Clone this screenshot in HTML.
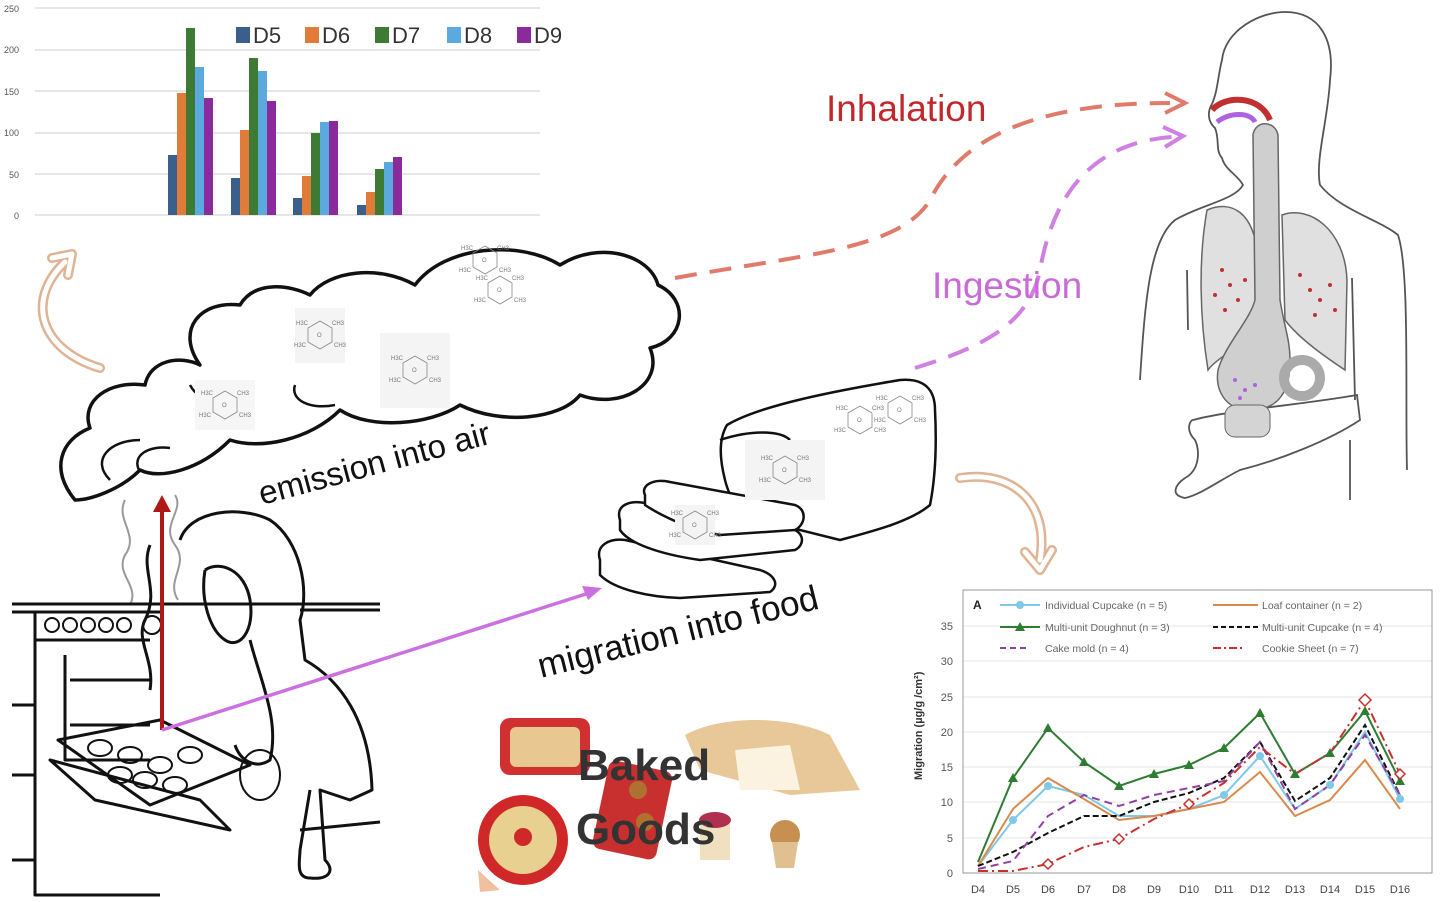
<!DOCTYPE html>
<html><head><meta charset="utf-8"><style>
html,body{margin:0;padding:0;background:#fff;width:1440px;height:902px;overflow:hidden}
svg{display:block}
text{font-family:"Liberation Sans",sans-serif}
</style></head><body>
<svg width="1440" height="902" viewBox="0 0 1440 902" xmlns="http://www.w3.org/2000/svg">
<defs>
<g id="mol" fill="none" stroke="#888" stroke-width="0.8">
<polygon points="0,-14 12,-7 12,7 0,14 -12,7 -12,-7"/>
<text x="-24" y="-10" font-size="6" fill="#777" stroke="none">H3C</text>
<text x="12" y="-10" font-size="6" fill="#777" stroke="none">CH3</text>
<text x="-26" y="12" font-size="6" fill="#777" stroke="none">H3C</text>
<text x="14" y="12" font-size="6" fill="#777" stroke="none">CH3</text>
<text x="-3" y="2" font-size="6" fill="#777" stroke="none">O</text>
</g>
</defs>

<!-- Bar chart -->
<g font-size="9" fill="#555">
<g stroke="#d8d8d8" stroke-width="1.2">
<line x1="35" y1="8" x2="540" y2="8"/><line x1="35" y1="50" x2="540" y2="50"/>
<line x1="35" y1="91" x2="540" y2="91"/><line x1="35" y1="133" x2="540" y2="133"/>
<line x1="35" y1="174" x2="540" y2="174"/><line x1="35" y1="215" x2="540" y2="215"/>
</g>
<text x="4" y="12">250</text><text x="4" y="53">200</text><text x="4" y="95">150</text>
<text x="4" y="136">100</text><text x="9" y="178">50</text><text x="14" y="219">0</text>
</g>
<g>
<rect x="168" y="155" width="9" height="60" fill="#3a5f8a"/>
<rect x="177" y="93" width="9" height="122" fill="#e07b39"/>
<rect x="186" y="28" width="9" height="187" fill="#3d7a33"/>
<rect x="195" y="67" width="9" height="148" fill="#5aaae0"/>
<rect x="204" y="98" width="9" height="117" fill="#8b2b9b"/>
<rect x="231" y="178" width="9" height="37" fill="#3a5f8a"/>
<rect x="240" y="130" width="9" height="85" fill="#e07b39"/>
<rect x="249" y="58" width="9" height="157" fill="#3d7a33"/>
<rect x="258" y="71" width="9" height="144" fill="#5aaae0"/>
<rect x="267" y="101" width="9" height="114" fill="#8b2b9b"/>
<rect x="293" y="198" width="9" height="17" fill="#3a5f8a"/>
<rect x="302" y="176" width="9" height="39" fill="#e07b39"/>
<rect x="311" y="133" width="9" height="82" fill="#3d7a33"/>
<rect x="320" y="122" width="9" height="93" fill="#5aaae0"/>
<rect x="329" y="121" width="9" height="94" fill="#8b2b9b"/>
<rect x="357" y="205" width="9" height="10" fill="#3a5f8a"/>
<rect x="366" y="192" width="9" height="23" fill="#e07b39"/>
<rect x="375" y="169" width="9" height="46" fill="#3d7a33"/>
<rect x="384" y="162" width="9" height="53" fill="#5aaae0"/>
<rect x="393" y="157" width="9" height="58" fill="#8b2b9b"/>
</g>
<g font-size="22" fill="#333">
<rect x="236" y="27" width="14" height="16" fill="#3a5f8a"/><text x="253" y="43">D5</text>
<rect x="305" y="27" width="14" height="16" fill="#e07b39"/><text x="322" y="43">D6</text>
<rect x="375" y="27" width="14" height="16" fill="#3d7a33"/><text x="392" y="43">D7</text>
<rect x="447" y="27" width="14" height="16" fill="#5aaae0"/><text x="464" y="43">D8</text>
<rect x="517" y="27" width="14" height="16" fill="#8b2b9b"/><text x="534" y="43">D9</text>
</g>

<!-- orange curved arrows -->
<g fill="none" stroke-linecap="round" stroke-linejoin="round">
<path d="M100,368 C40,350 25,300 65,262 M52,258 L72,254 L68,275" stroke="#e0b394" stroke-width="10"/>
<path d="M100,368 C40,350 25,300 65,262 M52,258 L72,254 L68,275" stroke="#fff" stroke-width="5"/>
<path d="M960,478 C1010,470 1050,500 1040,560 M1025,552 L1040,570 L1052,550" stroke="#e0b394" stroke-width="10"/>
<path d="M960,478 C1010,470 1050,500 1040,560 M1025,552 L1040,570 L1052,550" stroke="#fff" stroke-width="5"/>
</g>

<!-- cloud -->
<g fill="#fff" stroke="#111" stroke-width="3.5" stroke-linejoin="round">
<path d="M75,500 C50,470 60,440 90,428 C80,400 110,380 145,385 C150,360 180,355 200,365 C175,330 200,300 240,305 C255,280 290,285 310,295 C330,270 380,265 415,285 C445,245 520,240 560,265 C600,240 650,255 658,285 C690,300 685,340 650,348 C665,385 620,410 580,395 C560,420 500,425 460,405 C430,425 370,430 340,410 C310,440 260,450 230,440 C200,470 160,480 140,470 C120,490 90,500 75,500 Z"/>
</g>
<g fill="none" stroke="#111" stroke-width="2.5">
<path d="M110,480 C90,460 110,440 140,440"/>
<path d="M140,472 C130,455 150,445 170,448"/>
<path d="M190,385 C200,405 230,405 245,395"/>
<path d="M295,385 C290,400 310,410 335,405"/>
</g>
<!-- smoke -->
<g fill="none" stroke="#999" stroke-width="2">
<path d="M125,500 C115,520 140,535 125,555 C115,575 140,585 130,605"/>
<path d="M175,495 C185,510 160,525 175,545 C190,565 165,580 178,600"/>
</g>
<!-- molecules -->
<rect x="195" y="380" width="60" height="50" fill="#f6f6f6"/><use href="#mol" x="225" y="405"/>
<rect x="295" y="308" width="50" height="55" fill="#f4f4f4"/><use href="#mol" x="320" y="335"/>
<rect x="380" y="333" width="70" height="75" fill="#f4f4f4"/><use href="#mol" x="415" y="370"/>
<use href="#mol" x="500" y="290"/><use href="#mol" x="485" y="260"/>

<text x="0" y="0" font-size="33" fill="#111" transform="translate(262,505) rotate(-15)">emission into air</text>

<!-- dashed paths -->
<path d="M675,278 C800,255 900,250 930,200 C965,130 1050,103 1170,103" fill="none" stroke="#e07a6a" stroke-width="4" stroke-dasharray="22,13"/>
<path d="M1165,93 L1185,103 L1165,113" fill="none" stroke="#e07a6a" stroke-width="4"/>
<path d="M915,368 C990,345 1030,320 1040,270 C1055,185 1100,142 1172,137" fill="none" stroke="#d080e0" stroke-width="4" stroke-dasharray="22,13"/>
<path d="M1163,127 L1183,136 L1165,147" fill="none" stroke="#d080e0" stroke-width="4"/>
<text x="826" y="121" font-size="37" fill="#c0282d">Inhalation</text>
<text x="932" y="298" font-size="37" fill="#c86ad8">Ingestion</text>

<!-- body -->
<g fill="none" stroke="#555" stroke-width="1.8">
<path d="M1140,380 C1145,300 1150,240 1175,220 C1200,205 1235,200 1243,185 C1238,175 1225,170 1222,158 C1215,150 1220,140 1215,128 C1208,122 1207,112 1212,104 C1218,90 1218,75 1222,60 C1225,30 1260,12 1285,12 C1320,12 1335,40 1330,80 C1328,120 1315,160 1320,185 C1340,210 1380,220 1398,235 C1410,270 1405,400 1407,470"/>
<path d="M1187,270 L1188,330"/><path d="M1352,278 L1355,400"/>
<path d="M1193,420 C1230,410 1300,405 1357,395 L1360,420 C1330,440 1280,460 1240,470 C1220,480 1200,495 1185,498 C1170,495 1175,485 1185,478 C1200,470 1200,450 1195,440 C1185,430 1190,420 1193,420"/>
<path d="M1350,440 L1350,500"/>
</g>
<path d="M1207,210 C1230,200 1255,210 1258,260 L1258,335 C1240,345 1215,360 1208,370 C1200,320 1198,260 1207,210 Z" fill="#e0e0e0" stroke="#666" stroke-width="1.5"/>
<path d="M1282,215 C1310,205 1345,230 1347,280 L1345,370 C1330,360 1300,340 1285,320 Z" fill="#e0e0e0" stroke="#666" stroke-width="1.5"/>
<path d="M1253,135 C1255,120 1275,120 1278,135 L1280,300 C1285,330 1290,340 1290,360 C1290,390 1280,410 1250,410 C1225,410 1215,390 1218,370 C1225,345 1250,320 1255,300 Z" fill="#cfcfcf" stroke="#666" stroke-width="1.5"/>
<circle cx="1302" cy="378" r="18" fill="none" stroke="#aaa" stroke-width="10"/>
<rect x="1225" y="405" width="45" height="32" rx="10" fill="#d4d4d4" stroke="#666"/>
<path d="M1212,110 C1225,95 1260,95 1270,120" fill="none" stroke="#c03030" stroke-width="6"/>
<path d="M1217,122 C1230,112 1250,112 1255,122" fill="none" stroke="#b060e0" stroke-width="5"/>
<g fill="#c03030">
<circle cx="1222" cy="270" r="2"/><circle cx="1230" cy="285" r="2"/><circle cx="1215" cy="295" r="2"/><circle cx="1238" cy="300" r="2"/><circle cx="1225" cy="310" r="2"/><circle cx="1245" cy="280" r="2"/>
<circle cx="1310" cy="290" r="2"/><circle cx="1320" cy="300" r="2"/><circle cx="1330" cy="285" r="2"/><circle cx="1315" cy="315" r="2"/><circle cx="1335" cy="310" r="2"/><circle cx="1300" cy="275" r="2"/>
</g>
<g fill="#b060e0"><circle cx="1235" cy="380" r="2"/><circle cx="1245" cy="390" r="2"/><circle cx="1255" cy="385" r="2"/><circle cx="1240" cy="398" r="2"/></g>

<!-- oven scene -->
<g fill="none" stroke="#111" stroke-width="3" stroke-linejoin="round">
<path d="M12,604 L380,604"/><path d="M12,612 L160,612"/>
<path d="M35,612 L35,895 L160,895"/><path d="M35,640 L150,640"/>
<path d="M65,655 L65,760 L150,760"/>
<path d="M70,680 L150,680"/><path d="M70,725 L150,725"/>
<path d="M50,760 L200,800 L230,830 L95,800 Z"/>
<path d="M58,740 L160,720 L250,765 L150,805 Z"/>
<path d="M300,610 L380,610"/><path d="M12,705 L35,705"/><path d="M12,775 L35,775"/><path d="M12,860 L35,860"/>
<path d="M300,830 L380,822"/>
<path d="M180,540 C190,510 240,505 270,520 C300,540 310,590 300,620 L305,660 C340,680 370,720 372,790 L350,800 L320,790 L325,860 C335,870 330,880 310,878 C295,878 300,860 300,850 L310,790"/>
<path d="M205,570 C220,560 245,570 250,600 C255,630 240,650 225,640 C210,630 200,600 205,570"/>
<path d="M250,640 C260,680 280,720 270,760 C255,770 240,760 235,745"/>
<path d="M150,545 C140,570 160,590 145,620 C135,640 155,660 150,690"/>
</g>
<g fill="none" stroke="#111" stroke-width="2">
<circle cx="52" cy="625" r="7"/><circle cx="70" cy="625" r="7"/><circle cx="88" cy="625" r="7"/><circle cx="106" cy="625" r="7"/><circle cx="124" cy="625" r="7"/><circle cx="152" cy="625" r="9"/>
<ellipse cx="100" cy="748" rx="12" ry="8"/><ellipse cx="130" cy="755" rx="12" ry="8"/><ellipse cx="160" cy="765" rx="12" ry="8"/><ellipse cx="190" cy="755" rx="12" ry="8"/>
<ellipse cx="145" cy="780" rx="12" ry="8"/><ellipse cx="175" cy="785" rx="12" ry="8"/><ellipse cx="120" cy="775" rx="12" ry="8"/>
<ellipse cx="260" cy="775" rx="20" ry="25"/>
</g>
<!-- arrows from tray -->
<line x1="162" y1="730" x2="162" y2="510" stroke="#b01818" stroke-width="4"/>
<path d="M153,512 L162,495 L171,512 Z" fill="#b01818"/>
<line x1="162" y1="730" x2="592" y2="592" stroke="#cc70e0" stroke-width="3.5"/>
<path d="M582,586 L602,588 L588,600 Z" fill="#cc70e0"/>

<!-- bread -->
<g fill="#fff" stroke="#111" stroke-width="2.5" stroke-linejoin="round">
<path d="M727,425 C760,405 840,390 900,380 C925,378 935,390 935,410 C937,450 935,480 930,505 C910,522 870,532 840,540 L760,520 C740,515 730,500 725,480 C720,460 718,440 727,425 Z"/>
<path d="M720,440 C750,430 780,430 790,440"/>
<path d="M600,560 C595,545 610,538 625,540 L760,570 C775,575 780,585 770,592 L680,598 C650,597 615,590 600,575 Z"/>
<path d="M620,520 C615,505 630,500 645,503 L790,528 C805,532 805,545 795,550 L700,560 C665,555 630,545 620,530 Z"/>
<path d="M645,495 C640,485 655,478 670,482 L795,505 C808,510 805,525 795,530 L720,535 C690,530 660,515 645,505 Z"/>
</g>
<rect x="745" y="440" width="80" height="60" fill="#f4f4f4"/><use href="#mol" x="785" y="470"/>
<use href="#mol" x="860" y="420"/><use href="#mol" x="900" y="410"/>
<rect x="675" y="505" width="40" height="40" fill="#f4f4f4"/><use href="#mol" x="695" y="525"/>
<text x="0" y="0" font-size="35" fill="#111" transform="translate(541,678) rotate(-14)">migration into food</text>

<!-- baked goods -->
<rect x="500" y="718" width="90" height="57" rx="10" fill="#d03030"/>
<rect x="510" y="727" width="70" height="40" rx="6" fill="#e8c890"/>
<circle cx="523" cy="840" r="45" fill="#d02828"/>
<circle cx="523" cy="840" r="34" fill="#e8d090"/>
<circle cx="523" cy="837" r="9" fill="#d02828"/>
<path d="M478,870 L500,890 L480,892 Z" fill="#f0c0a0"/>
<rect x="600" y="765" width="65" height="90" rx="8" fill="#c83030" transform="rotate(12 632 810)"/>
<circle cx="638" cy="790" r="9" fill="#b07030"/><circle cx="645" cy="822" r="9" fill="#b07030"/>
<path d="M685,735 C720,715 790,715 830,735 L860,790 L790,795 L700,770 Z" fill="#e8c898"/>
<path d="M735,750 L790,745 L800,790 L740,790 Z" fill="#fbf3e0"/>
<rect x="700" y="820" width="30" height="40" fill="#f0e0c0"/>
<ellipse cx="715" cy="820" rx="16" ry="8" fill="#b03050"/>
<circle cx="785" cy="835" r="15" fill="#c89050"/>
<path d="M772,842 L798,842 L794,868 L776,868 Z" fill="#e0c090"/>
<text x="578" y="780" font-size="44" font-weight="bold" fill="#333">Baked</text>
<text x="576" y="844" font-size="44" font-weight="bold" fill="#333">Goods</text>

<!-- line chart -->
<g stroke="#e4e4e4" stroke-width="1">
<line x1="963" y1="838" x2="1432" y2="838"/><line x1="963" y1="802" x2="1432" y2="802"/>
<line x1="963" y1="767" x2="1432" y2="767"/><line x1="963" y1="732" x2="1432" y2="732"/>
<line x1="963" y1="697" x2="1432" y2="697"/><line x1="963" y1="661" x2="1432" y2="661"/>
<line x1="963" y1="626" x2="1432" y2="626"/>
</g>
<rect x="963" y="590" width="469" height="283" fill="none" stroke="#999" stroke-width="1"/>
<g font-size="11" fill="#555" text-anchor="end">
<text x="953" y="877">0</text><text x="953" y="842">5</text><text x="953" y="806">10</text><text x="953" y="771">15</text>
<text x="953" y="736">20</text><text x="953" y="701">25</text><text x="953" y="665">30</text><text x="953" y="630">35</text>
</g>
<g font-size="11" fill="#444" text-anchor="middle">
<text x="978" y="893">D4</text><text x="1013" y="893">D5</text><text x="1048" y="893">D6</text><text x="1084" y="893">D7</text>
<text x="1119" y="893">D8</text><text x="1154" y="893">D9</text><text x="1189" y="893">D10</text><text x="1224" y="893">D11</text>
<text x="1260" y="893">D12</text><text x="1295" y="893">D13</text><text x="1330" y="893">D14</text><text x="1365" y="893">D15</text><text x="1400" y="893">D16</text>
</g>
<text transform="translate(922,780) rotate(-90)" font-size="11" font-weight="bold" fill="#333">Migration (µg/g /cm²)</text>
<text x="973" y="609" font-size="12" font-weight="bold" fill="#222">A</text>
<g font-size="10.5" fill="#666">
<line x1="1000" y1="605" x2="1040" y2="605" stroke="#7ec8e8" stroke-width="2"/><circle cx="1020" cy="605" r="4" fill="#7ec8e8"/>
<text x="1045" y="609">Individual Cupcake (n = 5)</text>
<line x1="1213" y1="605" x2="1258" y2="605" stroke="#d98a4a" stroke-width="2"/>
<text x="1262" y="609">Loaf container (n = 2)</text>
<line x1="1000" y1="627" x2="1040" y2="627" stroke="#2e7d32" stroke-width="2"/><path d="M1015,631 L1020,622 L1025,631 Z" fill="#2e7d32"/>
<text x="1045" y="631">Multi-unit Doughnut (n = 3)</text>
<line x1="1213" y1="627" x2="1258" y2="627" stroke="#111" stroke-width="2" stroke-dasharray="5,3"/>
<text x="1262" y="631">Multi-unit Cupcake (n = 4)</text>
<line x1="1000" y1="648" x2="1030" y2="648" stroke="#9040a0" stroke-width="2" stroke-dasharray="6,4"/>
<text x="1045" y="652">Cake mold (n = 4)</text>
<line x1="1213" y1="648" x2="1245" y2="648" stroke="#c83030" stroke-width="2" stroke-dasharray="8,3,2,3"/>
<text x="1262" y="652">Cookie Sheet (n = 7)</text>
</g>
<g fill="none" stroke-width="2">
<polyline stroke="#7ec8e8" points="978,866 1013,820 1048,786 1084,795 1119,816 1154,816 1189,809 1224,795 1260,756 1295,809 1330,785 1365,732 1400,799"/>
<polyline stroke="#d98a4a" points="978,866 1013,809 1048,778 1084,799 1119,820 1154,816 1189,809 1224,802 1260,772 1295,816 1330,800 1365,760 1400,809"/>
<polyline stroke="#2e7d32" points="978,862 1013,778 1048,728 1084,762 1119,786 1154,774 1189,765 1224,748 1260,713 1295,774 1330,753 1365,711 1400,781"/>
<polyline stroke="#111" stroke-dasharray="6,3" points="978,866 1013,852 1048,833 1084,816 1119,816 1154,802 1189,793 1224,778 1260,742 1295,801 1330,778 1365,725 1400,795"/>
<polyline stroke="#9040a0" stroke-dasharray="8,5" points="978,869 1013,861 1048,816 1084,795 1119,806 1154,795 1189,788 1224,781 1260,742 1295,809 1330,785 1365,735 1400,795"/>
<polyline stroke="#c83030" stroke-dasharray="10,4,2,4" points="978,871 1013,871 1048,864 1084,847 1119,839 1154,819 1189,804 1224,783 1260,747 1295,774 1330,753 1365,700 1400,774"/>
</g>
<g fill="#7ec8e8"><circle cx="1013" cy="820" r="4"/><circle cx="1048" cy="786" r="4"/><circle cx="1224" cy="795" r="4"/><circle cx="1260" cy="756" r="4"/><circle cx="1330" cy="785" r="4"/><circle cx="1400" cy="799" r="4"/></g>
<g fill="#2e7d32">
<path d="M1008,782 L1013,773 L1018,782Z M1043,732 L1048,723 L1053,732Z M1079,766 L1084,757 L1089,766Z M1114,790 L1119,781 L1124,790Z M1149,778 L1154,769 L1159,778Z M1184,769 L1189,760 L1194,769Z M1219,752 L1224,743 L1229,752Z M1255,717 L1260,708 L1265,717Z M1290,778 L1295,769 L1300,778Z M1325,757 L1330,748 L1335,757Z M1360,715 L1365,706 L1370,715Z M1395,785 L1400,776 L1405,785Z"/>
</g>
<g fill="#fff" stroke="#c83030" stroke-width="1.5">
<path d="M1048,859 L1053,864 L1048,869 L1043,864Z M1119,834 L1124,839 L1119,844 L1114,839Z M1189,799 L1194,804 L1189,809 L1184,804Z M1365,694 L1371,700 L1365,706 L1359,700Z M1400,769 L1405,774 L1400,779 L1395,774Z"/>
</g>
</svg>
</body></html>
